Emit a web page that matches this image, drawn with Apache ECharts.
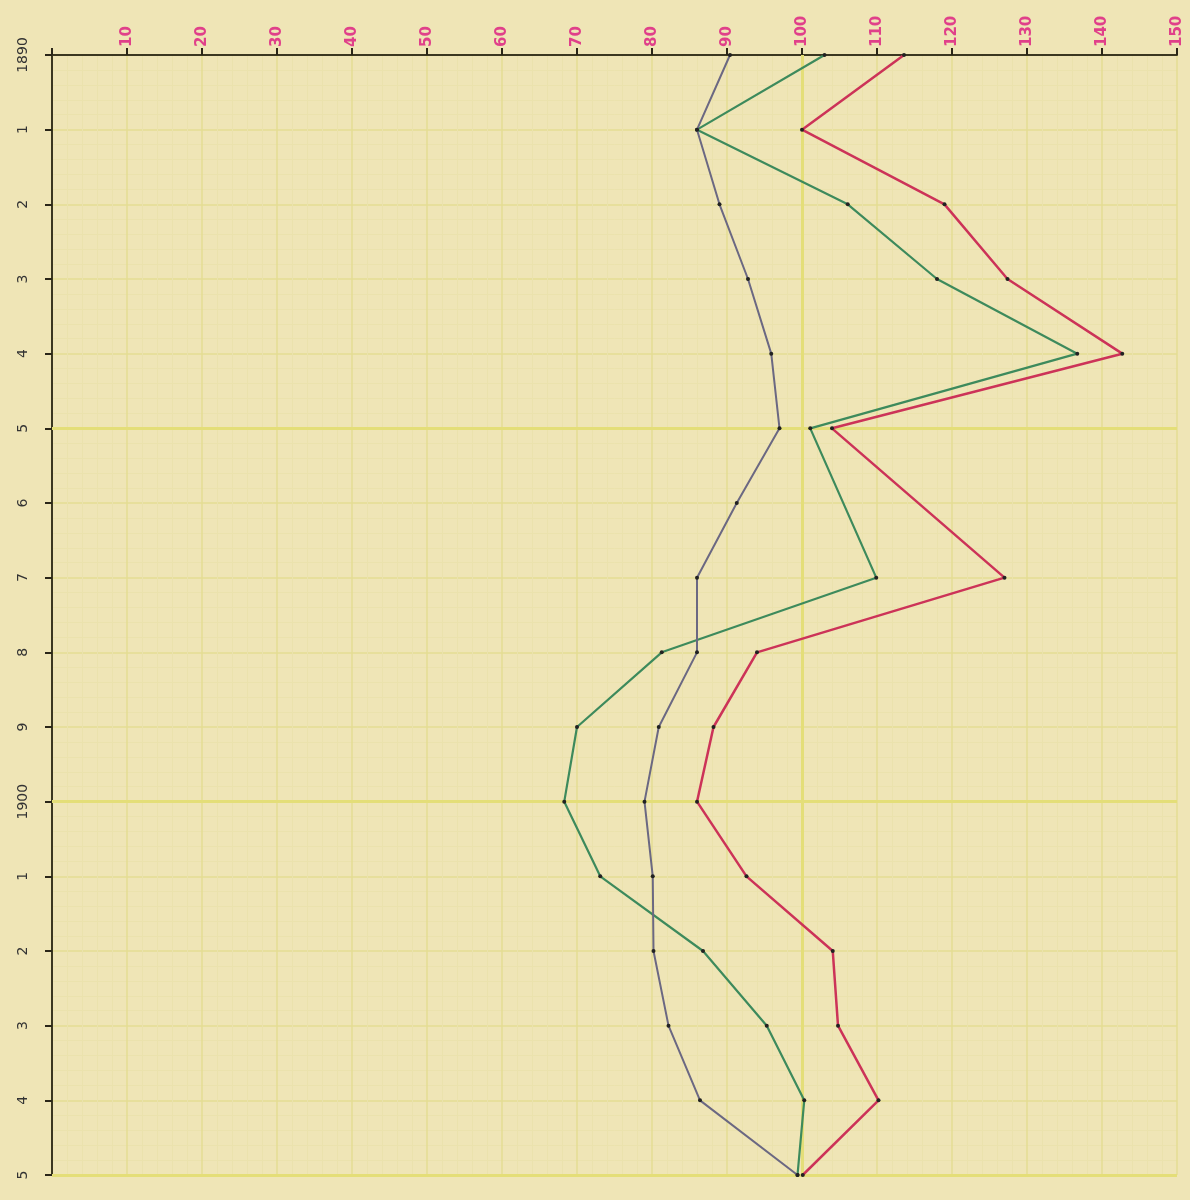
<!DOCTYPE html>
<html>
<head>
<meta charset="utf-8">
<script src="https://cdn.jsdelivr.net/npm/echarts@6/dist/echarts.min.js"></script>
<style>
html,body{margin:0;padding:0;background:#efe5b6;}
#c{width:1190px;height:1200px;}
</style>
</head>
<body>
<div id="c"></div>
<script>
const years = ['1890','1','2','3','4','5','6','7','8','9','1900','1','2','3','4','5'];
const valueTicks = [10,20,30,40,50,60,70,80,90,100,110,120,130,140,150];
const redSeries = [113.6,100,119,127.4,142.7,104,null,127,94,88.2,86,92.6,104.1,104.8,110.2,100.1];
const greenSeries = [103,86,106.1,118,136.7,101.1,null,109.9,81.3,70,68.3,73.1,86.8,95.3,100.3,99.4];
const slateSeries = [90.4,86,89,92.8,95.9,97,91.3,86,86,80.9,79,80.1,80.2,82.2,86.4,99.4];

const chart = echarts.init(document.getElementById('c'));
function pairs(arr){ return arr.map((v,i)=>[v,i]); }

const dot = {color:'#222'};
chart.setOption({
  backgroundColor:'#efe5b6',
  animation:false,
  grid:{left:52,right:13,top:55,bottom:25,containLabel:false},
  xAxis:{
    type:'value', position:'top', min:0, max:150, interval:10,
    axisLine:{show:true,lineStyle:{color:'#3b3720',width:2}},
    axisTick:{show:true,length:7,lineStyle:{color:'#2a2618',width:2}},
    axisLabel:{color:'#e0408a',fontSize:15,fontWeight:'bold',fontFamily:'DejaVu Sans',rotate:90,margin:8,
      formatter:function(v){return valueTicks.indexOf(v)>=0?String(v):'';}},
    splitLine:{show:true,lineStyle:{color:'#e4dc93',width:1.5}},
    minorTick:{show:false,splitNumber:5},
    minorSplitLine:{show:true,lineStyle:{color:'#ebe2ad',width:1}}
  },
  yAxis:{
    type:'value', inverse:true, min:0, max:15, interval:1,
    axisLine:{show:true,lineStyle:{color:'#3b3720',width:2}},
    axisTick:{show:true,length:7,lineStyle:{color:'#2a2618',width:2}},
    axisLabel:{color:'#333',fontSize:14,fontFamily:'DejaVu Sans',rotate:90,margin:22,
      formatter:function(v){return years[v]!==undefined?years[v]:'';}},
    splitLine:{show:true,lineStyle:{color:'#e4dc93',width:1.5}},
    minorSplitLine:{show:true,lineStyle:{color:'#ebe2ad',width:1}}
  },
  series:[
    {type:'line',name:'guides',data:[],silent:true,z:1,zlevel:0,
     markLine:{symbol:'none',silent:true,z:1,label:{show:false},
       lineStyle:{color:'#e4de78',width:3,type:'solid'},
       data:[{xAxis:100},{yAxis:5},{yAxis:10},{yAxis:15}]}},
    {type:'line',name:'red',data:pairs(redSeries),connectNulls:true,
     lineStyle:{color:'#cc3358',width:2.5},itemStyle:dot,symbol:'circle',symbolSize:4,z:3},
    {type:'line',name:'green',data:pairs(greenSeries),connectNulls:true,
     lineStyle:{color:'#3d8a5c',width:2.2},itemStyle:dot,symbol:'circle',symbolSize:4,z:4},
    {type:'line',name:'slate',data:pairs(slateSeries),connectNulls:true,
     lineStyle:{color:'#6b6882',width:2},itemStyle:dot,symbol:'circle',symbolSize:4,z:5}
  ]
});
</script>
</body>
</html>
